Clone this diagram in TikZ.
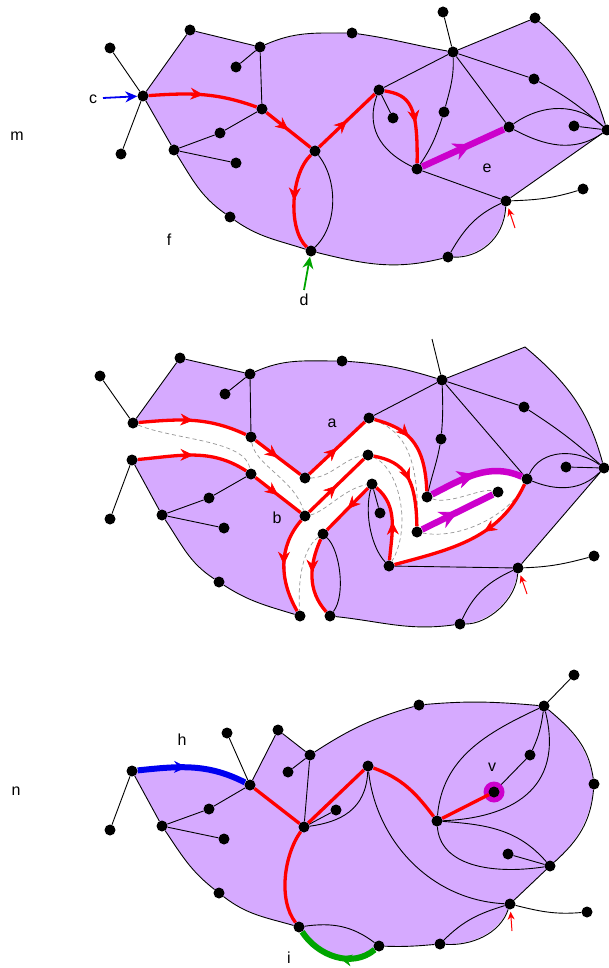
\documentclass[tikz,border=0pt]{standalone}
\usepackage{fontspec}
\setmainfont{Liberation Sans}
\usetikzlibrary{arrows.meta,decorations.markings}
\pgfdeclarelayer{bg}
\pgfdeclarelayer{mid}
\pgfsetlayers{bg,mid,main}
\definecolor{purp}{RGB}{214,170,255}
\definecolor{magc}{RGB}{204,0,204}
\definecolor{bluec}{RGB}{0,0,240}
\definecolor{greenc}{RGB}{0,165,0}
\definecolor{dgray}{RGB}{150,150,150}
\tikzset{
  vtx/.style={circle, fill=black, inner sep=0pt, minimum size=11pt},
  ln/.style={draw=black, line width=0.9pt},
  redp/.style={draw=red, line width=3.3pt},
  magp/.style={draw=magc, line width=6.5pt},
  bluep/.style={draw=bluec, line width=6pt},
  greenp/.style={draw=greenc, line width=6pt},
  dsh/.style={draw=dgray, line width=0.7pt, dash pattern=on 4pt off 3pt},
  lbl/.style={font=\fontsize{16}{18}\selectfont, inner sep=0pt},
  marr/.style={postaction={decorate}, decoration={markings, mark=at position #1 with {\arrow[line width=0.6pt]{Stealth[length=13pt,width=12pt]}}}},
  marr/.default=0.5,
  barr/.style={postaction={decorate}, decoration={markings, mark=at position #1 with {\arrow[line width=0.6pt]{Stealth[length=18pt,width=18pt]}}}},
  barr/.default=0.5,
  sarr/.style={line width=1.8pt, -{Stealth[length=12pt,width=11pt]}},
}
\begin{document}
\begin{tikzpicture}[x=1pt,y=-1pt]
\useasboundingbox (0,0) rectangle (608,968);

% ================= panel 1 =================
\foreach \n/\p in {c1/{143,96}, tl1/{110,48}, bl1/{121,154}, A1/{190,30}, B1/{260,47}, Bl1/{236,67},
  C1/{262,109}, X1/{220,133}, D1/{174,150}, Dl1/{236,163}, E1/{315,151}, lw1/{230,217}, d1/{311,251},
  T1/{352,33}, tp1/{443,12}, H1/{453,52}, tr1/{535,18}, rm1/{534,79}, G1/{379,90}, Gl1/{393,118},
  md1/{444,112}, e1/{509,127}, I1/{417,169}, rl1/{574,126}, R1/{607,130}, J1/{506,201}, Jl1/{583,189}, K1/{448,257}}
  {\node[vtx] (\n) at (\p) {};}

\node[lbl] (lm) at (17,136) {m};
\node[lbl] (lc) at (93,99) {c};
\node[lbl] (lf) at (169,240) {f};
\node[lbl] (ld) at (304,300) {d};
\node[lbl] (le) at (487,168) {e};
\coordinate (cb) at (103,98);
\coordinate (dg) at (304,290);
\coordinate (ra1) at (515,228);

\begin{pgfonlayer}{bg}
\fill[purp] (c1.center) -- (A1.center) -- (B1.center) to[out=24,in=180] (T1.center) to[out=-8,in=170] (H1.center)
  -- (tr1.center) to[out=-40,in=107] (R1.center) -- (J1.center) .. controls (504,240) and (478,258) .. (K1.center)
  to[out=194,in=-14] (d1.center) to[out=162,in=-35] (lw1.center) to[out=145,in=-58] (D1.center) -- cycle;
\end{pgfonlayer}

\begin{pgfonlayer}{mid}
\draw[ln] (c1) -- (tl1);
\draw[ln] (c1) -- (bl1);
\draw[ln] (c1) -- (A1) -- (B1) to[out=24,in=180] (T1) to[out=-8,in=170] (H1) -- (tr1) to[out=-40,in=107] (R1) -- (J1)
  .. controls (504,240) and (478,258) .. (K1) to[out=194,in=-14] (d1) to[out=162,in=-35] (lw1) to[out=145,in=-58] (D1) -- (c1);
\draw[ln] (B1) -- (Bl1);
\draw[ln] (B1) -- (C1);
\draw[ln] (C1) -- (X1) -- (D1);
\draw[ln] (D1) -- (Dl1);
\draw[ln] (E1) .. controls (338,180) and (338,225) .. (d1);
\draw[ln] (H1) -- (tp1);
\draw[ln] (H1) -- (G1);
\draw[ln] (G1) -- (Gl1);
\draw[ln] (G1) .. controls (366,125) and (378,150) .. (I1);
\draw[ln] (H1) to[out=-88,in=75] (md1) to[out=-108,in=56] (I1);
\draw[ln] (H1) -- (e1);
\draw[ln] (H1) -- (rm1) to[out=-28,in=139] (R1);
\draw[ln] (e1) to[out=35,in=137] (R1);
\draw[ln] (e1) to[out=-28,in=-145] (R1);
\draw[ln] (rl1) -- (R1);
\draw[ln] (I1) -- (J1);
\draw[ln] (J1) to[out=2,in=-163] (Jl1);
\draw[ln] (J1) to[out=-155,in=60] (K1);
\draw[redp,marr] (c1) to[out=4,in=160] (C1);
\draw[redp,marr] (C1) -- (E1);
\draw[redp,marr] (E1) -- (G1);
\draw[redp,marr=0.55] (G1) .. controls (410,95) and (418,105) .. (I1);
\draw[redp,marr] (E1) .. controls (290,175) and (288,230) .. (d1);
\draw[magp,barr=0.6] (I1) -- (e1);
\draw[bluec,sarr] (cb) -- (c1);
\draw[greenc,sarr] (dg) -- (d1);
\draw[red,line width=1pt,-{Stealth[length=8pt,width=7pt]},shorten >=2pt] (ra1) -- (J1);
\end{pgfonlayer}

% ================= panel 2 =================
\foreach \n/\p in {P1/{133,423}, tl2/{100,376}, P2/{132,460}, Pl2/{110,519}, A2/{180,358}, B2/{250,374},
  Bl2/{225,394}, C2a/{251,437}, C2b/{251,474}, X2/{209,498}, D2/{162,515}, Dl2/{224,528},
  E2a/{305,478}, E2b/{305,516}, F2/{323,534}, lw2/{219,582}, d2a/{300,616}, d2b/{330,616},
  T2/{342,361}, H2/{442,380}, rm2/{524,407}, G2a/{369,418}, G2b/{368,455}, G2c/{372,484},
  Gl2/{380,513}, md2/{441,439}, I2a/{427,497}, I2b/{417,532}, Q2/{527,479}, e2b/{498,492},
  rl2/{566,467}, R2/{604,468}, Kn2/{389,566}, J2/{518,568}, Jl2/{594,556}, K2/{460,624}}
  {\node[vtx] (\n) at (\p) {};}
\coordinate (tp2) at (432,339);
\coordinate (tr2) at (525,347);
\coordinate (ra2) at (527,594);
\node[lbl] (la) at (332,423) {a};
\node[lbl] (lb) at (277,518) {b};

\begin{pgfonlayer}{bg}
\fill[purp] (P1.center) -- (A2.center) -- (B2.center) to[out=24,in=180] (T2.center) to[out=-4,in=163] (H2.center)
  -- (tr2) to[out=-40,in=105] (R2.center) -- (J2.center) .. controls (516,600) and (488,624) .. (K2.center)
  to[out=188,in=-6] (d2b.center) -- (d2a.center) to[out=163,in=-33] (lw2.center) to[out=147,in=-56] (D2.center)
  -- (P2.center) -- cycle;
\fill[white] (P1.center) to[out=5,in=155] (C2a.center) -- (E2a.center) -- (G2a.center)
  .. controls (405,428) and (425,440) .. (I2a.center) to[out=27,in=156] (Q2.center)
  to[out=-115,in=15] (Kn2.center) to[out=85,in=-40] (G2c.center) -- (F2.center)
  to[out=-114,in=132] (d2b.center) -- ++(0,14) -| (d2a.center) to[out=120,in=-131] (E2b.center)
  -- (C2b.center) to[out=147,in=5] (P2.center) -- ++(-16,0) |- (P1.center) -- cycle;
\end{pgfonlayer}

\begin{pgfonlayer}{mid}
\draw[ln] (P1) -- (tl2);
\draw[ln] (P2) -- (Pl2);
\draw[ln] (P1) -- (A2) -- (B2) to[out=24,in=180] (T2) to[out=-4,in=163] (H2) -- (tr2) to[out=-40,in=105] (R2) -- (J2)
  .. controls (516,600) and (488,624) .. (K2) to[out=188,in=-6] (d2b);
\draw[ln] (d2a) to[out=163,in=-33] (lw2) to[out=147,in=-56] (D2) -- (P2);
\draw[ln] (B2) -- (Bl2);
\draw[ln] (B2) -- (C2a);
\draw[ln] (C2b) -- (X2) -- (D2);
\draw[ln] (D2) -- (Dl2);
\draw[ln] (F2) .. controls (340,550) and (346,595) .. (d2b);
\draw[ln] (H2) -- (tp2);
\draw[ln] (H2) -- (G2a);
\draw[ln] (G2c) -- (Gl2);
\draw[ln] (G2c) .. controls (364,515) and (372,548) .. (Kn2);
\draw[ln] (H2) to[out=-88,in=85] (md2) to[out=-100,in=77] (I2a);
\draw[ln] (H2) -- (Q2);
\draw[ln] (H2) -- (rm2) to[out=-33,in=138] (R2);
\draw[ln] (Q2) to[out=65,in=144] (R2);
\draw[ln] (Q2) to[out=-22,in=-135] (R2);
\draw[ln] (rl2) -- (R2);
\draw[ln] (Kn2) -- (J2);
\draw[ln] (J2) to[out=2,in=-165] (Jl2);
\draw[ln] (J2) to[out=-155,in=65] (K2);
% dashed
\draw[dsh] (P1) .. controls (175,440) and (245,440) .. (C2b);
\draw[dsh] (C2a) .. controls (255,465) and (295,480) .. (E2b);
\draw[dsh] (E2a) .. controls (330,478) and (345,458) .. (G2b);
\draw[dsh] (G2a) .. controls (400,430) and (420,450) .. (I2b);
\draw[dsh] (G2b) .. controls (400,468) and (412,528) .. (Kn2);
\draw[dsh] (E2b) .. controls (325,512) and (345,488) .. (G2c);
\draw[dsh] (F2) .. controls (300,550) and (298,590) .. (d2a);
\draw[dsh] (I2b) .. controls (460,540) and (510,515) .. (Q2);
\draw[dsh] (I2a) .. controls (450,505) and (480,488) .. (e2b);
% red
\draw[redp,marr] (P1) to[out=5,in=155] (C2a);
\draw[redp,marr] (C2a) -- (E2a);
\draw[redp,marr] (E2a) -- (G2a);
\draw[redp,marr=0.4] (G2a) .. controls (405,428) and (425,440) .. (I2a);
\draw[magp,barr] (I2a) to[out=27,in=156] (Q2);
\draw[redp,marr] (P2) to[out=5,in=147] (C2b);
\draw[redp,marr] (C2b) -- (E2b);
\draw[redp,marr] (E2b) -- (G2b);
\draw[redp,marr] (G2b) .. controls (405,462) and (416,478) .. (I2b);
\draw[magp,barr] (I2b) -- (e2b);
\draw[redp,marr] (E2b) to[out=-131,in=120] (d2a);
\draw[redp,marr=0.45] (F2) to[out=-114,in=132] (d2b);
\draw[redp,marr] (G2c) -- (F2);
\draw[redp,marr] (Kn2) to[out=85,in=-40] (G2c);
\draw[redp,marr=0.4] (Q2) to[out=-115,in=15] (Kn2);
\draw[red,line width=1pt,-{Stealth[length=8pt,width=7pt]},shorten >=2pt] (ra2) -- (J2);
\end{pgfonlayer}

% ================= panel 3 =================
\foreach \n/\p in {L3/{132,771}, Ll3/{110,830}, M3/{250,785}, Ml3/{227,733}, A3/{278,730}, B3/{310,755},
  Bl3/{288,772}, D3/{162,826}, X3/{209,809}, Dl3/{224,839}, E3/{304,827}, El3/{336,810}, lw3/{219,893},
  i3/{299,927}, T3/{419,705}, H3/{544,706}, Hl3/{574,675}, G3/{368,766}, v3/{494,792}, vd3/{530,755},
  rd3/{594,784}, I3/{437,821}, nl3/{508,854}, N3/{550,866}, J3/{510,904}, Jl3/{587,912}, K3/{440,944}, bd3/{379,946}}
  {\node[vtx] (\n) at (\p) {};}
\coordinate (ra3) at (512,931);
\node[lbl] (ln) at (16,791) {n};
\node[lbl] (lh) at (182,740) {h};
\node[lbl] (li) at (289,958) {i};
\node[lbl] (lv) at (492,767) {v};

\begin{pgfonlayer}{bg}
\fill[purp] (L3.center) to[out=6,in=153] (M3.center) -- (A3.center) -- (B3.center) to[out=33,in=-164] (T3.center)
  to[out=5,in=175] (H3.center) to[out=-40,in=98] (rd3.center) to[out=-95,in=42] (N3.center) -- (J3.center)
  .. controls (500,934) and (471,946) .. (K3.center) to[out=185,in=-2] (bd3.center) to[out=-140,in=-57] (i3.center)
  to[out=164,in=-38] (lw3.center) to[out=142,in=-56] (D3.center) -- cycle;
\end{pgfonlayer}

\begin{pgfonlayer}{mid}
\draw[ln] (L3) -- (Ll3);
\draw[ln] (M3) -- (Ml3);
\draw[ln] (M3) -- (A3) -- (B3) to[out=33,in=-164] (T3) to[out=5,in=175] (H3) to[out=-40,in=98] (rd3)
  to[out=-95,in=42] (N3) -- (J3) .. controls (500,934) and (471,946) .. (K3) to[out=185,in=-2] (bd3);
\draw[ln] (i3) to[out=164,in=-38] (lw3) to[out=142,in=-56] (D3) -- (L3);
\draw[ln] (M3) -- (X3) -- (D3);
\draw[ln] (D3) -- (Dl3);
\draw[ln] (B3) -- (Bl3);
\draw[ln] (B3) -- (E3);
\draw[ln] (E3) -- (El3);
\draw[ln] (E3) .. controls (340,822) and (366,810) .. (G3);
\draw[ln] (G3) .. controls (376,840) and (430,900) .. (J3);
\draw[ln] (I3) to[out=85,in=-155] (H3);
\draw[ln] (I3) .. controls (510,818) and (565,790) .. (H3);
\draw[ln] (v3) -- (vd3) to[out=65,in=-98] (H3);
\draw[ln] (H3) -- (Hl3);
\draw[ln] (I3) to[out=-4,in=131] (N3);
\draw[ln] (I3) .. controls (440,865) and (490,875) .. (N3);
\draw[ln] (nl3) -- (N3);
\draw[ln] (J3) to[out=-14,in=185] (Jl3);
\draw[ln] (J3) to[out=-163,in=45] (K3);
\draw[ln] (i3) to[out=8,in=143] (bd3);
\fill[magc] (v3.center) circle (10.5);
\draw[redp] (M3) -- (E3);
\draw[redp] (E3) -- (G3);
\draw[redp] (G3) to[out=-20,in=127] (I3);
\draw[redp] (I3) -- (v3);
\draw[redp] (E3) .. controls (284,855) and (278,900) .. (i3);
\draw[bluep,marr=0.45] (L3) to[out=6,in=153] (M3);
\draw[greenp,marr=0.45] (bd3) to[out=-140,in=-57] (i3);
\draw[red,line width=1pt,-{Stealth[length=8pt,width=7pt]},shorten >=2pt] (ra3) -- (J3);
\end{pgfonlayer}
\end{tikzpicture}
\end{document}
